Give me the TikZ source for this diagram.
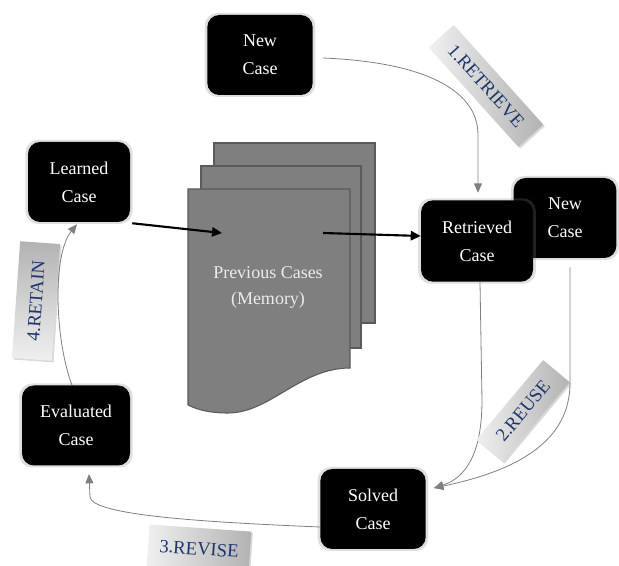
\documentclass[tikz,border=0pt]{standalone}
\usepackage{fontspec}
\setmainfont{Liberation Serif}
\usetikzlibrary{arrows.meta,shadows,calc}
\definecolor{lbltext}{RGB}{30,54,108}
\definecolor{pagefill}{RGB}{127,127,127}
\definecolor{pageline}{RGB}{90,90,90}
\definecolor{thinline}{RGB}{128,128,128}
\begin{document}
\begin{tikzpicture}[x=0.75pt,y=-0.75pt,
  casebox/.style={fill=black,text=white,rounded corners=9pt,align=center,
    font=\fontsize{13.5}{21}\selectfont,minimum width=79pt,minimum height=60pt,
    drop shadow={shadow xshift=0pt,shadow yshift=0pt,shadow scale=1.05,opacity=0.25}},
  docpage/.style={fill=pagefill,draw=pageline,line width=0.8pt},
  thickarrow/.style={draw=black,line width=1.6pt,-{Triangle[length=7.5pt,width=7pt]}},
  thinarrow/.style={draw=thinline,line width=0.6pt,-{Triangle[length=7pt,width=6pt,fill=thinline]}},
  lablbox/.style={text=lbltext,font=\fontsize{14}{16}\selectfont,
    left color=white!94!black,right color=black!30,
    drop shadow={shadow xshift=1.2pt,shadow yshift=-1.2pt,opacity=0.3}}
]
\useasboundingbox (0,0) rectangle (619,566);

% memory document stack
\draw[docpage] (214,143) rectangle (375,323);
\draw[docpage] (201,166) rectangle (361,348);
\draw[docpage] (188,189) -- (350,189) -- (350,368)
  .. controls (300,368) and (270,413) .. (228,413)
  .. controls (210,413) and (198,410) .. (188,405) -- cycle;
\node[text=white!92!black,align=center,font=\fontsize{13.5}{19.5}\selectfont] (memory) at (268,287) {Previous Cases\\(Memory)};
\coordinate (docin) at (222,233);
\coordinate (docout) at (323,233);

% case boxes
\node[casebox,minimum width=77pt] (newright) at (565,218) {New\\Case};
\node[casebox,minimum width=84pt,minimum height=61pt] (retrieved) at (477,241) {Retrieved\\Case};
\node[casebox] (newtop) at (260,55) {New\\Case};
\node[casebox,minimum width=76.5pt] (learned) at (79,182) {Learned\\Case};
\node[casebox,minimum width=81pt] (evaluated) at (76,425.5) {Evaluated\\Case};
\node[casebox,minimum width=79pt] (solved) at (373,509) {Solved\\Case};

% thick arrows
\draw[thickarrow] ([shift={(1.5pt,-0.75pt)}]learned.south east) -- (docin);
\draw[thickarrow] (docout) -- ([yshift=3.75pt]retrieved.west);

% retrieve
\draw[thinarrow] ([shift={(7.5pt,-2.25pt)}]newtop.east)
  .. controls (420,62) and (478,88) .. (478,135) -- ([shift={(0.75pt,5.5pt)}]retrieved.north);

% reuse
\coordinate (reusetip) at (434,488);
\draw[thinarrow] ([xshift=2.25pt]retrieved.south) -- (482,400)
  .. controls (482,455) and (465,478) .. (reusetip);
\draw[thinarrow] ([shift={(3.75pt,-6.75pt)}]newright.south) -- (570,383)
  .. controls (570,440) and (520,470) .. (reusetip);

% revise
\coordinate (revisetip) at (89,474);
\draw[thinarrow] ([yshift=-13.5pt]solved.west)
  .. controls (200,522) and (92,515) .. (90,497) -- (revisetip);

% retain
\draw[thinarrow] ([xshift=-3pt]evaluated.north)
  .. controls (55,340) and (52,255) .. ([shift={(-1.5pt,-1.5pt)}]learned.south);

% labels
\node[lablbox,rotate=-48,minimum width=100.5pt,minimum height=25pt] (l1) at (486,86) {1.RETRIEVE};
\node[lablbox,rotate=50,minimum width=78pt,minimum height=26pt] (l2) at (523,411) {2.REUSE};
\node[lablbox,rotate=-4,minimum width=76.5pt,minimum height=31.5pt] (l3) at (199,549) {3.REVISE};
\node[lablbox,rotate=86,minimum width=87.75pt,minimum height=30pt,
  top color=black!30,bottom color=white!94!black] (l4) at (36,301) {4.RETAIN};
\end{tikzpicture}
\end{document}
